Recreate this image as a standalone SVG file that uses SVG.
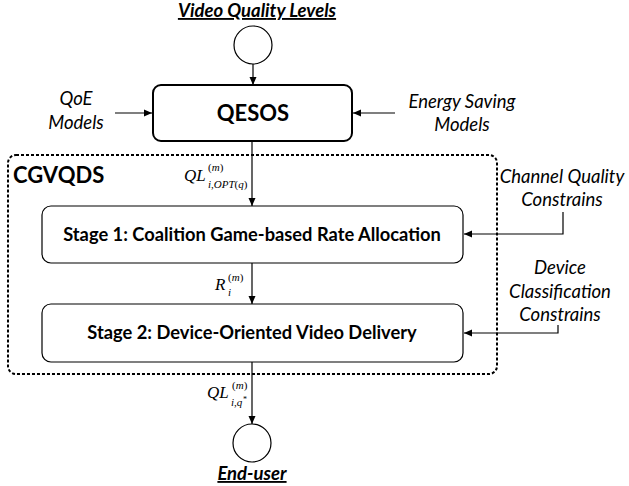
<svg xmlns="http://www.w3.org/2000/svg" width="629" height="486" viewBox="0 0 629 486">
<defs>
<marker id="ah" markerWidth="10" markerHeight="10" refX="9" refY="5" orient="auto" markerUnits="userSpaceOnUse">
<path d="M1,1.5 L9,5 L1,8.5 Z" fill="#000"/>
</marker>
</defs>
<style>
.ann{font-family:Lato,"Liberation Sans",sans-serif;font-style:italic;font-size:18.5px;fill:#000;text-anchor:middle}
.ttl{font-family:Lato,"Liberation Sans",sans-serif;font-style:italic;font-weight:bold;font-size:18.5px;fill:#000;text-anchor:middle;text-decoration:underline}
.stg{font-family:Lato,"Liberation Sans",sans-serif;font-weight:bold;font-size:18.3px;fill:#000;text-anchor:middle}
.math{font-family:"Liberation Serif","DejaVu Serif",serif;font-style:italic;fill:#000}
.up{font-style:normal}
.box{fill:#fff;stroke:#000;stroke-width:1.2}
.con{fill:none;stroke:#000;stroke-width:1.2}
</style>
<rect width="629" height="486" fill="#fff"/>

<g id="cgvqds">
<rect x="8" y="155" width="489" height="219" rx="8" fill="none" stroke="#000" stroke-width="2" stroke-dasharray="3,2"/>
<text x="13" y="183" style="font-family:Lato,'Liberation Sans',sans-serif;font-weight:bold;font-size:22px">CGVQDS</text>
</g>

<g id="connectors">
<line class="con" x1="253" y1="64" x2="253" y2="85" marker-end="url(#ah)"/>
<line class="con" x1="115" y1="113" x2="152" y2="113" marker-end="url(#ah)"/>
<line class="con" x1="395" y1="113" x2="353" y2="113" marker-end="url(#ah)"/>
<line class="con" x1="252" y1="141" x2="252" y2="206" marker-end="url(#ah)"/>
<line class="con" x1="252" y1="263" x2="252" y2="304" marker-end="url(#ah)"/>
<line class="con" x1="252" y1="362" x2="252" y2="424" marker-end="url(#ah)"/>
<polyline class="con" points="563,212 563,234 464,234" marker-end="url(#ah)"/>
<polyline class="con" points="558,325 558,333 464,333" marker-end="url(#ah)"/>
</g>

<g id="video-quality-levels">
<text class="ttl" x="257" y="17">Video Quality Levels</text>
<circle cx="253" cy="45" r="19" fill="#fff" stroke="#000" stroke-width="1.2"/>
</g>

<g id="qesos">
<rect x="153" y="85" width="199" height="56" rx="8" fill="#fff" stroke="#000" stroke-width="2"/>
<text class="stg" x="253" y="121" style="font-size:22px">QESOS</text>
</g>

<g id="qoe-models">
<text class="ann" x="76" y="105">QoE</text>
<text class="ann" x="76" y="129">Models</text>
</g>

<g id="energy-saving-models">
<text class="ann" x="462" y="108">Energy Saving</text>
<text class="ann" x="462" y="131">Models</text>
</g>

<g id="channel-quality">
<text class="ann" x="562" y="183">Channel Quality</text>
<text class="ann" x="562" y="206">Constrains</text>
</g>

<g id="device-classification">
<text class="ann" x="560" y="274">Device</text>
<text class="ann" x="560" y="298">Classification</text>
<text class="ann" x="560" y="321">Constrains</text>
</g>

<g id="stage1">
<rect class="box" x="42" y="206" width="421" height="57" rx="9"/>
<text class="stg" x="252" y="241">Stage 1: Coalition Game-based Rate Allocation</text>
</g>

<g id="stage2">
<rect class="box" x="42" y="304" width="421" height="58" rx="9"/>
<text class="stg" x="252" y="339">Stage 2: Device-Oriented Video Delivery</text>
</g>

<g id="end-user">
<circle cx="252" cy="443" r="19" fill="#fff" stroke="#000" stroke-width="1.2"/>
<text class="ttl" x="252" y="480">End-user</text>
</g>

<g id="labels">
<text class="math" x="184" y="181" font-size="17">QL</text>
<text class="math" x="208" y="171" font-size="11"><tspan class="up">(</tspan>m<tspan class="up">)</tspan></text>
<text class="math" x="208" y="188" font-size="11">i<tspan class="up">,</tspan>OPT<tspan class="up">(</tspan>q<tspan class="up">)</tspan></text>

<text class="math" x="215" y="290" font-size="17">R</text>
<text class="math" x="228" y="281" font-size="11"><tspan class="up">(</tspan>m<tspan class="up">)</tspan></text>
<text class="math" x="228" y="296" font-size="11">i</text>

<text class="math" x="207" y="398" font-size="17">QL</text>
<text class="math" x="232" y="389" font-size="11"><tspan class="up">(</tspan>m<tspan class="up">)</tspan></text>
<text class="math" x="231" y="406" font-size="11">i<tspan class="up">,</tspan>q</text>
<text class="math up" x="243" y="402" font-size="8">*</text>
</g>
</svg>
